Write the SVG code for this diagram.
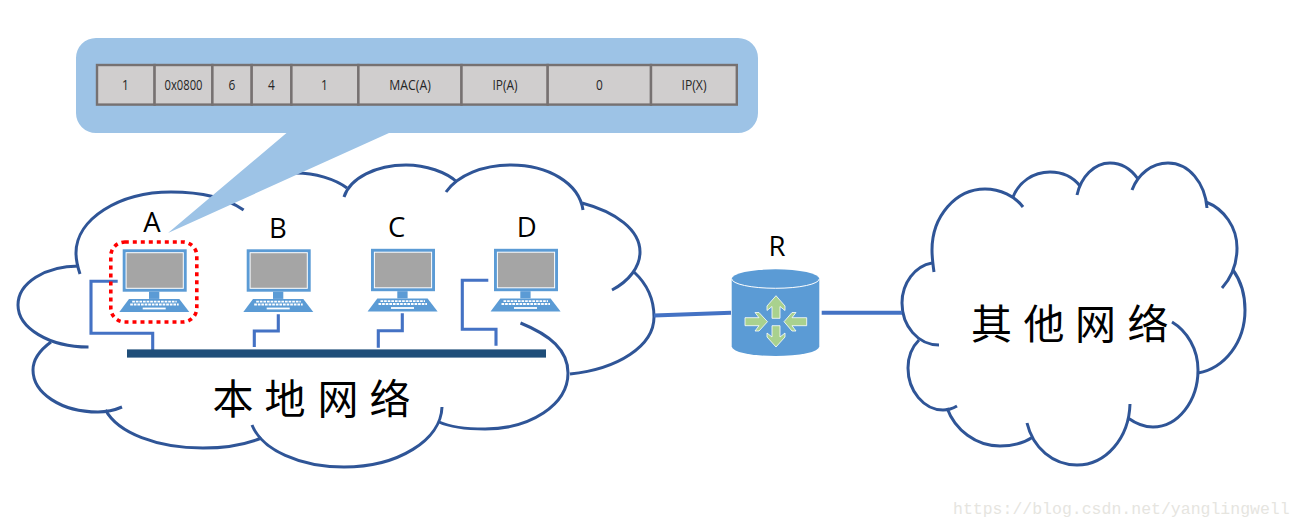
<svg xmlns="http://www.w3.org/2000/svg" width="1304" height="528" viewBox="0 0 1304 528">
<style>
.cloud{fill:none;stroke:#2F5597;stroke-width:3;stroke-linecap:butt}
.wire{fill:none;stroke:#4472C4;stroke-width:3.1;stroke-linejoin:miter}
.link{fill:none;stroke:#4472C4;stroke-width:4}
.lbl{font-family:"Open Sans","Noto Sans",sans-serif;font-size:27.5px;fill:#000;text-anchor:middle}
.cjk{font-family:"Noto Sans CJK SC","Noto Sans",sans-serif;font-size:41px;fill:#000;text-anchor:middle}
.cell{fill:#D0CECE;stroke:#767171;stroke-width:2.4}
.ct{font-family:"Open Sans","Noto Sans",sans-serif;font-size:14px;fill:#262626;text-anchor:middle}
.arrow{fill:#A9D18E;stroke:#fff;stroke-width:.8}
</style>
<defs>
<g id="pc">
<rect x="0" y="0" width="64" height="42.4" fill="#5B9BD5"/>
<rect x="3.4" y="3.4" width="57.2" height="35.6" fill="#A5A5A5" stroke="#fff" stroke-width="1"/>
<rect x="26.3" y="42.4" width="10.3" height="7.2" fill="#5B9BD5"/>
<polygon points="6.3,49.7 56.6,49.7 66.6,62.6 -3.4,62.6" fill="#5B9BD5"/>
<path d="M9.5 52.3H54M7.5 55.2H56" stroke="#fff" stroke-width="1.9" stroke-dasharray="2.7 .9" fill="none"/>
<rect x="20" y="58.3" width="23" height="1.8" fill="#fff"/>
</g>
</defs>
<g id="cloud-local">
<path class="cloud" d="M80 274C77 265 76 259 76 253C76 219 119 192 171 192C200 192 225 197 243.6 210"/>
<path class="cloud" d="M245 182C262 176 280 173 296 173C315 173 335 179 347 188"/>
<path class="cloud" d="M344 197C350 178 376 165 406 165C426 165 446 172 457 182"/>
<path class="cloud" d="M446 192C458 175 483 165 511 165C548 165 579 183 583 210"/>
<path class="cloud" d="M582 203C616 212 640 230 640 252C640 267 629 281 612 290"/>
<path class="cloud" d="M634 272C647 284 654 300 654 317C654 346 618 369 570 374"/>
<path class="cloud" d="M520.5 323C550 335 568 350 568 373C568 405 530 429 485 429C468 429 450 427 439 422"/>
<path class="cloud" d="M442 407C441 440 398 467 344 467C300 467 262 450 252 425"/>
<path class="cloud" d="M261.5 438C244 445 224 448 203 448C157 448 118 433 105.5 410"/>
<path class="cloud" d="M122 407C115 410 106 412 98 412C61 412 33 393 33 370C33 359 40 350 51 342"/>
<path class="cloud" d="M88.5 347C49 347 18 328 18 305C18 283 45 266 79 266"/>
<text class="cjk" x="233 285 338 390" y="414">本地网络</text>
</g>
<g id="cloud-other">
<path class="cloud" d="M934 272C933 265 932 257 932 250C932 216 956 189 985 189C1000 189 1015 196 1023 207"/>
<path class="cloud" d="M1013 197C1019 182 1033 172 1050 172C1062 172 1073 177 1080 186"/>
<path class="cloud" d="M1077 195C1081 177 1094 163 1110 163C1121 163 1131 169 1138 179"/>
<path class="cloud" d="M1132 190C1138 174 1152 163 1168 163C1189 163 1205 183 1207 208"/>
<path class="cloud" d="M1206 202C1224 209 1237 227 1237 248C1237 264 1231 278 1222 288"/>
<path class="cloud" d="M1233 270C1241 281 1245 295 1245 310C1245 342 1225 368 1198 373"/>
<path class="cloud" d="M1172 322C1187 331 1198 349 1198 370C1198 401 1178 427 1153 427C1144 427 1135 423 1128 418"/>
<path class="cloud" d="M1130 404C1129 438 1106 465 1077 465C1053 465 1033 448 1027 423"/>
<path class="cloud" d="M1033 437C1024 443 1012 446 1000 446C976 446 955 430 947 408"/>
<path class="cloud" d="M957 406C952 409 948 410 943 410C924 410 908 391 908 368C908 357 912 347 919 340"/>
<path class="cloud" d="M939 345C918 345 902 326 902 303C902 283 915 266 932 263"/>
<text class="cjk" x="991.5 1044 1095.5 1148" y="339">其他网络</text>
</g>
<g id="connectors">
<path class="wire" d="M117.7 281.3H91V333.3H152.7V351.7"/>
<path class="wire" d="M278.3 314.3V331H254.3V347"/>
<path class="wire" d="M402.3 313.3V330.7H378.3V347.7"/>
<path class="wire" d="M488.3 280.3H462.3V329.3H496V345.7"/>
<path class="link" d="M654 315.5L731 312.8"/>
<path class="link" d="M821.7 312.7H902"/>
</g>
<g id="bus"><rect x="127" y="349.4" width="419" height="8.2" fill="#1F4E79"/></g>
<g id="pc-a">
<use href="#pc" x="122.7" y="249.3"/>
<rect x="110.8" y="242" width="86" height="80" rx="14" fill="none" stroke="#FF0000" stroke-width="3.6" stroke-dasharray="4 4"/>
<text class="lbl" x="152" y="232.3">A</text>
</g>
<g id="pc-b"><use href="#pc" x="246.7" y="249.3"/><text class="lbl" x="278" y="238">B</text></g>
<g id="pc-c"><use href="#pc" x="371" y="248.8"/><text class="lbl" x="396.7" y="236.7">C</text></g>
<g id="pc-d"><use href="#pc" x="494" y="248.8"/><text class="lbl" x="526.7" y="236.7">D</text></g>
<g id="router">
<path d="M731.7 278.8A43.8 9.5 0 0 1 819.3 278.8V346.5A43.8 9.5 0 0 1 731.7 346.5Z" fill="#5B9BD5"/>
<path d="M731.7 278.8A43.8 9.5 0 0 0 819.3 278.8" fill="none" stroke="#fff" stroke-width="1"/>
<polygon class="arrow" points="776,295.7 785,306 785,310.5 780,306.5 780,318.3 772,318.3 772,306.5 767,310.5 767,306"/>
<polygon class="arrow" points="772,325.7 780,325.7 780,337 785,333 785,337 776,347 767,337 767,333 772,337"/>
<polygon class="arrow" points="745,317.7 759,317.7 755,312.5 759,312.5 767.5,321.7 759,331 755,331 759,325.7 745,325.7"/>
<polygon class="arrow" points="806.7,317.7 792,317.7 796,312.5 792,312.5 784,321.7 792,331 796,331 792,325.7 806.7,325.7"/>
<text class="lbl" x="777" y="256">R</text>
</g>
<g id="callout">
<path d="M96 38H738A20 20 0 0 1 758 58V113A20 20 0 0 1 738 133H389L168 233L286.5 133H96A20 20 0 0 1 76 113V58A20 20 0 0 1 96 38Z" fill="#9DC3E6"/>
<g id="packet">
<rect class="cell" x="97" y="65" width="57.6" height="39.6"/>
<rect class="cell" x="154.6" y="65" width="57.8" height="39.6"/>
<rect class="cell" x="212.4" y="65" width="39.3" height="39.6"/>
<rect class="cell" x="251.7" y="65" width="39.7" height="39.6"/>
<rect class="cell" x="291.4" y="65" width="67" height="39.6"/>
<rect class="cell" x="358.4" y="65" width="103.1" height="39.6"/>
<rect class="cell" x="461.5" y="65" width="86.2" height="39.6"/>
<rect class="cell" x="547.7" y="65" width="103.3" height="39.6"/>
<rect class="cell" x="651" y="65" width="85.8" height="39.6"/>
<text class="ct" x="125.5" y="90" textLength="6.8" lengthAdjust="spacingAndGlyphs">1</text>
<text class="ct" x="183.5" y="90" textLength="38" lengthAdjust="spacingAndGlyphs">0x0800</text>
<text class="ct" x="232" y="90" textLength="6.8" lengthAdjust="spacingAndGlyphs">6</text>
<text class="ct" x="271.5" y="90" textLength="6.8" lengthAdjust="spacingAndGlyphs">4</text>
<text class="ct" x="324.5" y="90" textLength="6.8" lengthAdjust="spacingAndGlyphs">1</text>
<text class="ct" x="410" y="90" textLength="41.5" lengthAdjust="spacingAndGlyphs">MAC(A)</text>
<text class="ct" x="505" y="90" textLength="25" lengthAdjust="spacingAndGlyphs">IP(A)</text>
<text class="ct" x="599.5" y="90" textLength="6.8" lengthAdjust="spacingAndGlyphs">0</text>
<text class="ct" x="694" y="90" textLength="25" lengthAdjust="spacingAndGlyphs">IP(X)</text>
</g>
</g>
<text id="watermark" x="953" y="514" font-family="'Liberation Mono',monospace" font-size="16.5" fill="#E6E5DF">https://blog.csdn.net/yanglingwell</text>
</svg>
